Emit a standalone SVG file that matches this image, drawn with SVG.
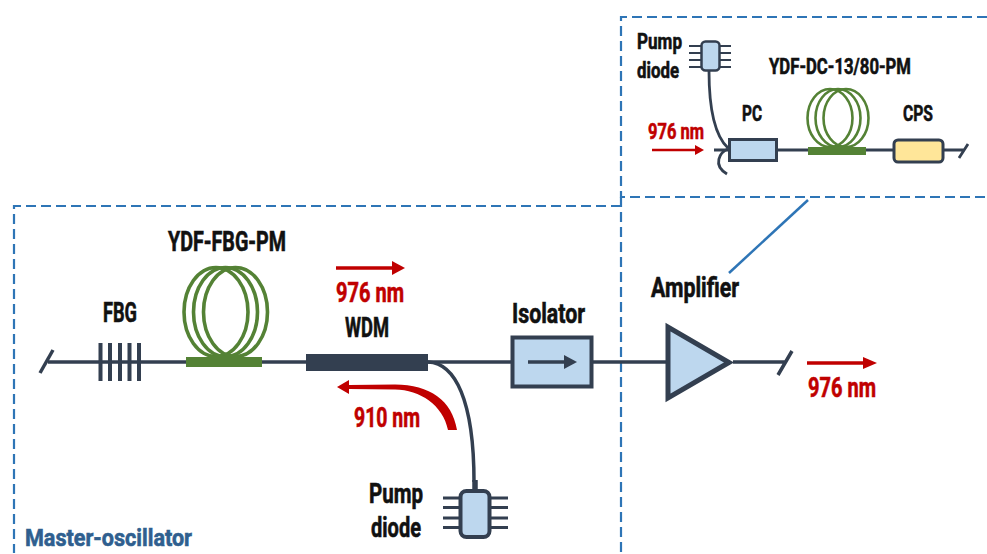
<svg xmlns="http://www.w3.org/2000/svg" width="987" height="554" viewBox="0 0 987 554">
<style>
text{font-family:"Roboto","Liberation Sans",sans-serif;font-weight:700;fill:#111;stroke:#111;stroke-width:.6}
.l{font-size:27px}.s{font-size:22px}
text.r{fill:#c00000;stroke:#c00000}
.box{fill:none;stroke:#2e75b6;stroke-width:2.200;stroke-dasharray:10 5}
.f{fill:none;stroke:#333f50;stroke-width:3.500}
.f2{fill:none;stroke:#333f50;stroke-width:2.800}
.c{fill:none;stroke:#548235;stroke-width:3.600}
.c2{fill:none;stroke:#548235;stroke-width:2.600}
.bar{fill:#548235}
.bl{fill:#bdd7ee;stroke:#333f50}
.ra{stroke:#c00000;stroke-width:3.500;fill:none}
.rh{fill:#c00000}
</style>
<rect width="987" height="554" fill="#fff"/>
<g id="frames">
<path class="box" d="M987 17H621V197H987"/>
<path class="box" d="M621 197V553M621 206H14V553"/>
</g>
<g id="connectors">
<path class="f" d="M48 362H670"/>
<path class="f" d="M40 373L53 350"/>
<path class="f" d="M428 362C455 363 474 400 474 482"/>
<path class="f" style="stroke-width:5.500" d="M475 480V491"/>
<path class="f" d="M733 362H785M778 375L792 351"/>
<path class="f2" d="M709 71C709 105 714 135 728 148"/>
<path class="f2" d="M714 150H965M959 158L968 144"/>
<path class="f2" d="M728 149C720 152 712 165 727 174"/>
<path d="M729 273L808 200" fill="none" stroke="#2e75b6" stroke-width="2.500"/>
</g>
<g id="fbg">
<path class="f" style="stroke-width:4" d="M100.500 343V381M110 343V381M120 343V381M129.500 343V381M139 343V381"/>
<text class="l" x="103" y="322" textLength="34" lengthAdjust="spacingAndGlyphs">FBG</text>
</g>
<g id="ydf-fbg-pm">
<ellipse class="c" cx="216" cy="312" rx="32" ry="44.500"/>
<ellipse class="c" cx="225.500" cy="312" rx="32" ry="44.500"/>
<ellipse class="c" cx="235.500" cy="312" rx="32" ry="44.500"/>
<rect class="bar" x="186" y="357" width="76" height="10"/>
<text class="l" x="168" y="251" textLength="118" lengthAdjust="spacingAndGlyphs">YDF-FBG-PM</text>
</g>
<g id="wdm">
<rect x="306" y="354" width="122" height="17" fill="#333f50"/>
<text class="l" x="345" y="337" textLength="44" lengthAdjust="spacingAndGlyphs">WDM</text>
</g>
<g id="signal-976">
<path class="ra" d="M336 268H394"/><path class="rh" d="M392 261L405 268L392 275Z"/>
<text class="l r" x="336" y="302" textLength="68" lengthAdjust="spacingAndGlyphs">976 nm</text>
</g>
<g id="pump-910">
<path class="rh" d="M337 387L349 380V385L395 384.500C430 385 452 400 457 430H448C443 405 420 390 395 389.500L349 389V394Z"/>
<text class="l r" x="354" y="427" textLength="66" lengthAdjust="spacingAndGlyphs">910 nm</text>
</g>
<g id="isolator">
<rect class="bl" x="512.500" y="337.500" width="79" height="49" stroke-width="4"/>
<path class="f" d="M528 362H566"/><path d="M564 355L577 362L564 369Z" fill="#333f50"/>
<text class="l" x="512" y="323" textLength="73" lengthAdjust="spacingAndGlyphs">Isolator</text>
</g>
<g id="pump-diode-main">
<path class="f" style="stroke-width:3" d="M443 498H459M443 507.500H459M443 518H459M443 527.500H459M490 498H508M490 507.500H508M490 518H508M490 527.500H508"/>
<rect class="bl" x="460.500" y="491" width="29" height="46" rx="6" stroke-width="4"/>
<text class="l" x="369" y="503" textLength="54" lengthAdjust="spacingAndGlyphs">Pump</text>
<text class="l" x="371" y="537" textLength="50" lengthAdjust="spacingAndGlyphs">diode</text>
</g>
<g id="amplifier">
<path class="bl" stroke-width="5" d="M668 327V398L729 362.500Z"/>
<text class="l" x="651" y="297" textLength="88" lengthAdjust="spacingAndGlyphs">Amplifier</text>
</g>
<g id="output-976">
<path class="ra" d="M807 363H865"/><path class="rh" d="M863 357L877 363L863 369Z"/>
<text class="l r" x="808" y="397" textLength="68" lengthAdjust="spacingAndGlyphs">976 nm</text>
</g>
<g id="master-oscillator">
<text x="25" y="546" font-size="24" style="fill:#2f5f8f;stroke:#2f5f8f" textLength="167" lengthAdjust="spacingAndGlyphs">Master-oscillator</text>
</g>
<g id="pump-diode-amp">
<path class="f2" style="stroke-width:2" d="M689 46H701M689 53H701M689 60H701M689 67H701M720 46H731M720 53H731M720 60H731M720 67H731"/>
<rect class="bl" x="701.500" y="41.500" width="18" height="29" rx="4" stroke-width="2.500"/>
<text class="s" x="637" y="49" textLength="45" lengthAdjust="spacingAndGlyphs">Pump</text>
<text class="s" x="637" y="78" textLength="42" lengthAdjust="spacingAndGlyphs">diode</text>
</g>
<g id="pump-976">
<path class="ra" style="stroke-width:2.500" d="M652 150H696"/><path class="rh" d="M695 145L704 150L695 155Z"/>
<text class="s r" x="648" y="139" textLength="56" lengthAdjust="spacingAndGlyphs">976 nm</text>
</g>
<g id="pc">
<rect class="bl" x="729.500" y="139.500" width="47" height="21" stroke-width="3"/>
<text class="s" x="742" y="121" textLength="20" lengthAdjust="spacingAndGlyphs">PC</text>
</g>
<g id="ydf-dc">
<ellipse class="c2" cx="830" cy="118" rx="22.500" ry="29"/>
<ellipse class="c2" cx="838" cy="118" rx="22.500" ry="29"/>
<ellipse class="c2" cx="846" cy="118" rx="22.500" ry="29"/>
<rect class="bar" x="808" y="147" width="58" height="8"/>
<text class="s" x="769" y="74" textLength="142" lengthAdjust="spacingAndGlyphs">YDF-DC-13/80-PM</text>
</g>
<g id="cps">
<rect x="894" y="140" width="49" height="22" rx="4" fill="#ffe699" stroke="#333f50" stroke-width="3"/>
<text class="s" x="903" y="121" textLength="30" lengthAdjust="spacingAndGlyphs">CPS</text>
</g>
</svg>
